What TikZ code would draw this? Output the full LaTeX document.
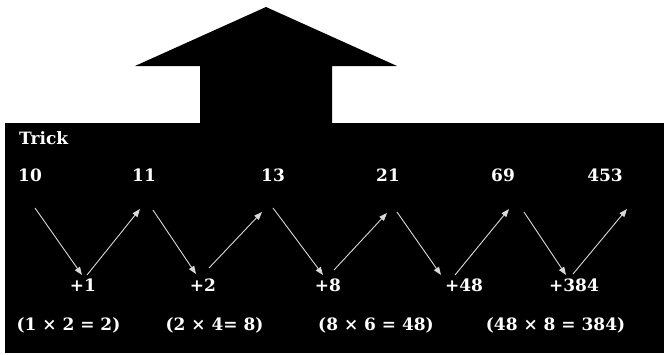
\documentclass[tikz,border=0pt]{standalone}
\usepackage{fontspec}
\setmainfont{DejaVu Serif}
\usetikzlibrary{arrows.meta}
\begin{document}
\begin{tikzpicture}[x=1pt,y=-1pt,
  lbl/.style={text=white,font=\bfseries\fontsize{17}{20}\selectfont,inner sep=0pt,anchor=base},
  con/.style={draw=white!85!black,line width=0.9pt,-{Triangle[width=6pt,length=8pt]}}]
\useasboundingbox (0,0) rectangle (664,354);
\fill[white] (0,0) rectangle (664,354);
\fill[black] (5,123) rectangle (664,353);
\fill[black] (266,7) -- (397,66) -- (332,66) -- (332,124) -- (200,124) -- (200,66) -- (135,66) -- cycle;
\node[lbl,anchor=base west] (trick) at (19,144) {Trick};
\node[lbl] (n1) at (30,181) {10};
\node[lbl] (n2) at (144,181) {11};
\node[lbl] (n3) at (273,181) {13};
\node[lbl] (n4) at (388,181) {21};
\node[lbl] (n5) at (503,181) {69};
\node[lbl] (n6) at (605,181) {453};
\node[lbl] (p1) at (83,291) {+1};
\node[lbl] (p2) at (203,291) {+2};
\node[lbl] (p3) at (328,291) {+8};
\node[lbl] (p4) at (464,291) {+48};
\node[lbl] (p5) at (574,291) {+384};
\node[lbl] (m1) at (68.5,330) {(1 × 2 = 2)};
\node[lbl] (m2) at (214.5,330) {(2 × 4= 8)};
\node[lbl] (m3) at (376,330) {(8 × 6 = 48)};
\node[lbl] (m4) at (555.5,330) {(48 × 8 = 384)};
% arrow end points
\coordinate (d1s) at (35,208);  \coordinate (d1e) at (82,275);
\coordinate (u1s) at (87,275);  \coordinate (u1e) at (140,209);
\coordinate (d2s) at (153,210); \coordinate (d2e) at (196,274);
\coordinate (u2s) at (209,268); \coordinate (u2e) at (262,212);
\coordinate (d3s) at (273,208); \coordinate (d3e) at (323,275);
\coordinate (u3s) at (334,270); \coordinate (u3e) at (387,213);
\coordinate (d4s) at (397,212); \coordinate (d4e) at (441,275);
\coordinate (u4s) at (455,275); \coordinate (u4e) at (509,209);
\coordinate (d5s) at (524,212); \coordinate (d5e) at (566,275);
\coordinate (u5s) at (573,274); \coordinate (u5e) at (627,209);
\foreach \i in {1,...,5}{
  \draw[con] (d\i s) -- (d\i e);
  \draw[con] (u\i s) -- (u\i e);
}
\end{tikzpicture}
\end{document}
